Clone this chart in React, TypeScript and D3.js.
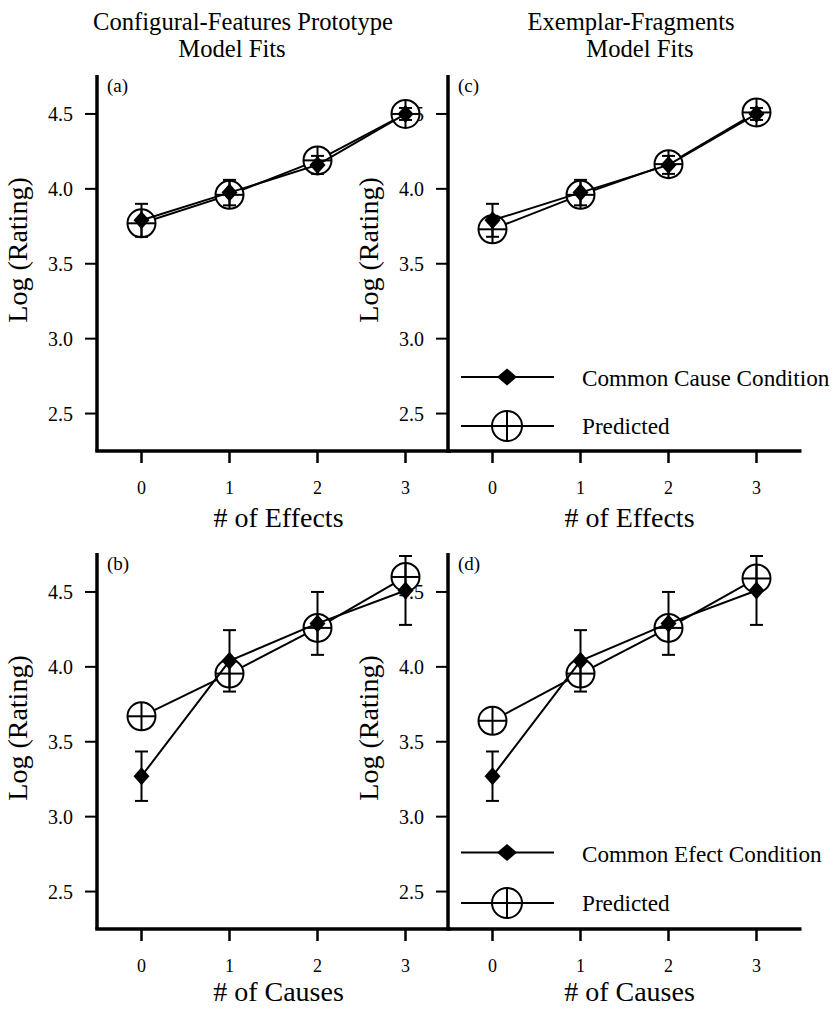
import React from "react";
import * as d3 from "d3";

// ---- data ----
const xValues = [0, 1, 2, 3];
const yTicks = [2.5, 3.0, 3.5, 4.0, 4.5];
const yTickLabels = ["2.5", "3.0", "3.5", "4.0", "4.5"];
const xTickLabels = ["0", "1", "2", "3"];

const commonCauseObserved = [3.79, 3.975, 4.16, 4.5];
const commonCauseError = [0.11, 0.085, 0.06, 0.04];
const prototypePredictedCause = [3.77, 3.96, 4.19, 4.5];
const exemplarPredictedCause = [3.73, 3.96, 4.165, 4.51];

const commonEffectObserved = [3.27, 4.04, 4.29, 4.51];
const commonEffectError = [0.165, 0.205, 0.21, 0.23];
const prototypePredictedEffect = [3.67, 3.955, 4.26, 4.6];
const exemplarPredictedEffect = [3.64, 3.955, 4.26, 4.59];

const panelLetters = ["(a)", "(b)", "(c)", "(d)"];
const xTitles = ["# of Effects", "# of Causes"];
const legendCauseLabel = "Common Cause Condition";
const legendEffectLabel = "Common Efect Condition";
const predictedLabel = "Predicted";

const FONT = "'Liberation Serif', 'Times New Roman', Times, serif";

type Panel = {
  letter: string;
  ax: number;
  top: number;
  bottom: number;
  titleDy: number;
  observed: number[];
  error: number[];
  predicted: number[];
  xTitle: string;
  legend?: string;
  legendY?: [number, number];
};

// right-hand panels first so the left panels' markers sit over their tick labels
const panels: Panel[] = [
  { letter: panelLetters[2], ax: 448, top: 75, bottom: 451, titleDy: 76, observed: commonCauseObserved, error: commonCauseError, predicted: exemplarPredictedCause, xTitle: xTitles[0], legend: legendCauseLabel, legendY: [377, 426] },
  { letter: panelLetters[3], ax: 448, top: 553, bottom: 929, titleDy: 72, observed: commonEffectObserved, error: commonEffectError, predicted: exemplarPredictedEffect, xTitle: xTitles[1], legend: legendEffectLabel, legendY: [852.5, 903] },
  { letter: panelLetters[0], ax: 97, top: 75, bottom: 451, titleDy: 76, observed: commonCauseObserved, error: commonCauseError, predicted: prototypePredictedCause, xTitle: xTitles[0] },
  { letter: panelLetters[1], ax: 97, top: 553, bottom: 929, titleDy: 72, observed: commonEffectObserved, error: commonEffectError, predicted: prototypePredictedEffect, xTitle: xTitles[1] },
];

const CIRCLE_R = 14;

function Diamond({ x, y, w = 8, h = 9 }: { x: number; y: number; w?: number; h?: number }) {
  return <path d={`M${x},${y - h}L${x + w},${y}L${x},${y + h}L${x - w},${y}Z`} fill="#000" />;
}

function CrossCircle({ x, y, r = CIRCLE_R }: { x: number; y: number; r?: number }) {
  return (
    <g>
      <circle cx={x} cy={y} r={r} fill="#fff" stroke="#000" strokeWidth={2} />
      <line x1={x - r} x2={x + r} y1={y} y2={y} stroke="#000" strokeWidth={2} />
      <line x1={x} x2={x} y1={y - r} y2={y + r} stroke="#000" strokeWidth={2} />
    </g>
  );
}

function PanelView({ p }: { p: Panel }) {
  const x = d3.scaleLinear().domain([0, 3]).range([p.ax + 44.5, p.ax + 308.5]);
  const y = d3.scaleLinear().domain([2.25, 4.76]).range([p.bottom, p.top]);
  const line = d3
    .line<number>()
    .x((_, i) => x(xValues[i]))
    .y((d) => y(d));
  const axisEnd = p.ax + 353.5;
  const midY = (p.top + p.bottom) / 2 - 13;
  return (
    <g>
      <text
        transform={`translate(${p.ax - 70},${midY}) rotate(-90)`}
        textAnchor="middle"
        fontFamily={FONT}
        fontSize={28}
      >
        Log (Rating)
      </text>
      {yTicks.map((t, i) => (
        <g key={t}>
          <line x1={p.ax - 12} x2={p.ax} y1={y(t)} y2={y(t)} stroke="#000" strokeWidth={2} />
          <text x={p.ax - 24} y={y(t)} dy="0.36em" textAnchor="end" fontFamily={FONT} fontSize={20}>
            {yTickLabels[i]}
          </text>
        </g>
      ))}
      {xValues.map((v, i) => (
        <g key={v}>
          <line x1={x(v)} x2={x(v)} y1={p.bottom} y2={p.bottom + 12} stroke="#000" strokeWidth={2.5} />
          <text x={x(v)} y={p.bottom + 43} textAnchor="middle" fontFamily={FONT} fontSize={18}>
            {xTickLabels[i]}
          </text>
        </g>
      ))}
      <text x={x(1.5) + 5} y={p.bottom + p.titleDy} textAnchor="middle" fontFamily={FONT} fontSize={28}>
        {p.xTitle}
      </text>
      <line x1={p.ax} x2={p.ax} y1={p.top} y2={p.bottom} stroke="#000" strokeWidth={3.5} />
      <line x1={p.ax - 1.75} x2={axisEnd} y1={p.bottom} y2={p.bottom} stroke="#000" strokeWidth={3.5} />
      <text x={p.ax + 10} y={p.top + 17} fontFamily={FONT} fontSize={19}>
        {p.letter}
      </text>
      <path d={line(p.predicted) || ""} fill="none" stroke="#000" strokeWidth={2} />
      {p.predicted.map((v, i) => (
        <CrossCircle key={"p" + i} x={x(xValues[i])} y={y(v)} />
      ))}
      <path d={line(p.observed) || ""} fill="none" stroke="#000" strokeWidth={2} />
      {p.observed.map((v, i) => {
        const cx = x(xValues[i]);
        const y1 = y(v + p.error[i]);
        const y2 = y(v - p.error[i]);
        return (
          <g key={"e" + i}>
            <line x1={cx} x2={cx} y1={y1} y2={y2} stroke="#000" strokeWidth={2} />
            <line x1={cx - 6.5} x2={cx + 6.5} y1={y1} y2={y1} stroke="#000" strokeWidth={2} />
            <line x1={cx - 6.5} x2={cx + 6.5} y1={y2} y2={y2} stroke="#000" strokeWidth={2} />
          </g>
        );
      })}
      {p.observed.map((v, i) => (
        <Diamond key={"d" + i} x={x(xValues[i])} y={y(v)} />
      ))}
      {p.legend && p.legendY && (
        <g>
          <line x1={p.ax + 13} x2={p.ax + 106} y1={p.legendY[0]} y2={p.legendY[0]} stroke="#000" strokeWidth={2} />
          <Diamond x={p.ax + 59} y={p.legendY[0]} w={10} h={8.5} />
          <text x={p.ax + 134} y={p.legendY[0] + 9} fontFamily={FONT} fontSize={23.2}>
            {p.legend}
          </text>
          <line x1={p.ax + 13} x2={p.ax + 106} y1={p.legendY[1]} y2={p.legendY[1]} stroke="#000" strokeWidth={2} />
          <CrossCircle x={p.ax + 59} y={p.legendY[1]} r={15} />
          <text x={p.ax + 134} y={p.legendY[1] + 8} fontFamily={FONT} fontSize={23.2}>
            {predictedLabel}
          </text>
        </g>
      )}
    </g>
  );
}

export default function App() {
  return (
    <div style={{ position: "absolute", left: 0, top: 0 }}>
      <svg width={836} height={1009} style={{ display: "block", background: "#fff" }}>
        <text x={243} y={30} textAnchor="middle" fontFamily={FONT} fontSize={24.6}>
          Configural-Features Prototype
        </text>
        <text x={232} y={57} textAnchor="middle" fontFamily={FONT} fontSize={24.6}>
          Model Fits
        </text>
        <text x={631} y={30} textAnchor="middle" fontFamily={FONT} fontSize={24.6}>
          Exemplar-Fragments
        </text>
        <text x={640} y={57} textAnchor="middle" fontFamily={FONT} fontSize={24.6}>
          Model Fits
        </text>
        {panels.map((p) => (
          <PanelView key={p.letter} p={p} />
        ))}
      </svg>
    </div>
  );
}
